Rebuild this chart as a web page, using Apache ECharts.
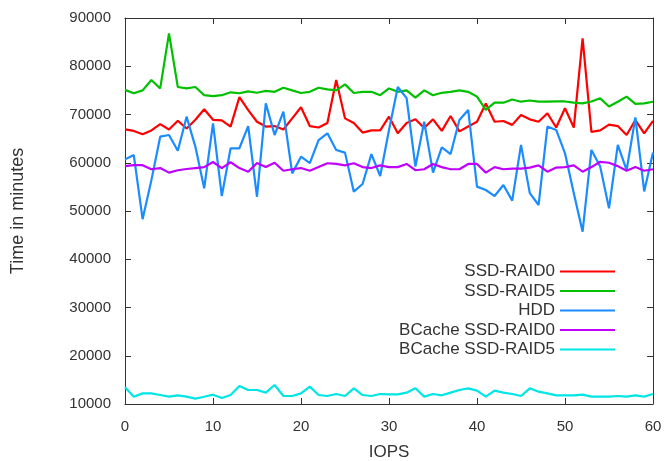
<!DOCTYPE html>
<html>
<head>
<meta charset="utf-8">
<script src="https://cdn.jsdelivr.net/npm/echarts@6/dist/echarts.min.js"></script>
<style>
html,body{margin:0;padding:0;background:#fff;}
#chart{width:664px;height:461px;}
</style>
</head>
<body>
<div id="chart"></div>
<script>
const xValues = Array.from({length: 61}, (_, i) => i);
const seriesNames = ['SSD-RAID0', 'SSD-RAID5', 'HDD', 'BCache SSD-RAID0', 'BCache SSD-RAID5'];

const ssdRaid0 = [66900, 66600, 65900, 66700, 68000, 66900, 68700, 67100, 68900, 71100,
  68900, 68800, 67500, 73600, 70900, 68500, 67500, 67600, 66900, 69200,
  71500, 67600, 67300, 68250, 77150, 69200, 68250, 66250, 66700, 66700,
  69550, 66100, 68250, 69000, 67200, 69000, 66600, 69700, 66500, 67500,
  68500, 72300, 68500, 68650, 67850, 69900, 69000, 68500, 70250, 67300,
  71300, 67300, 85800, 66400, 66700, 67900, 67600, 65750, 68850, 66100, 68700];

const ssdRaid5 = [75100, 74400, 75000, 77150, 75400, 86800, 75700, 75400, 75700, 74000,
  73800, 74000, 74600, 74400, 74800, 74500, 74900, 74700, 75550, 75000,
  74450, 74700, 75550, 75200, 75000, 76250, 74450, 74700, 74700, 74000,
  75400, 74700, 75000, 73500, 75000, 74000, 74500, 74700, 75000, 74700,
  73700, 70950, 72450, 72450, 73100, 72650, 72900, 72650, 72650, 72700,
  72700, 72450, 72300, 72700, 73350, 71650, 72650, 73700, 72200, 72300, 72650];

const hdd = [60700, 61600, 48300, 56400, 65400, 65750, 62500, 69550, 63300, 54700,
  68150, 53100, 63000, 63000, 67600, 52950, 72300, 65750, 70600, 57800,
  61250, 59900, 64700, 66100, 62650, 62100, 54000, 55600, 61800, 57250,
  66800, 75700, 73400, 59200, 68500, 57950, 63200, 61800, 68850, 70950,
  55050, 54350, 53100, 55400, 52150, 63700, 53700, 51250, 67500, 66800,
  61950, 53700, 45700, 62650, 59200, 50550, 63700, 58450, 69400, 54050, 62100];

const bcacheRaid0 = [59300, 59500, 59500, 58650, 58900, 57950, 58450, 58700, 58900, 59100,
  60150, 58900, 60100, 58900, 58150, 59950, 59100, 60000, 58350, 58650,
  58900, 58350, 59100, 59900, 59750, 59450, 59900, 59100, 58900, 59450,
  59100, 59100, 59750, 58450, 58650, 59750, 59100, 58650, 58650, 59750,
  59750, 57950, 59100, 58650, 58800, 58800, 59000, 59450, 58150, 59000,
  59100, 59450, 58150, 59100, 60200, 60000, 59300, 58350, 59100, 58350, 58650];

const bcacheRaid5 = [13450, 11520, 12200, 12200, 11860, 11520, 11800, 11520, 11100, 11500,
  11930, 11240, 11860, 13730, 12900, 12900, 12350, 13940, 11660, 11660,
  12200, 13600, 11860, 11660, 12070, 11660, 13250, 11860, 11660, 12070,
  12000, 12000, 12350, 13250, 11520, 12070, 11800, 12350, 12900, 13250,
  12760, 11520, 12760, 12350, 12070, 11660, 13250, 12550, 12200, 11800,
  11800, 11800, 11930, 11520, 11520, 11520, 11660, 11520, 11800, 11520, 12070];

const colors = ['#ff0000', '#00c000', '#1a8cff', '#c000ff', '#00e5e5'];
const allData = [ssdRaid0, ssdRaid5, hdd, bcacheRaid0, bcacheRaid5];

const FONT = 'Liberation Sans';
const TXT = '#333';

const chart = echarts.init(document.getElementById('chart'), null, {renderer: 'canvas'});

const series = allData.map((d, i) => ({
  name: seriesNames[i],
  type: 'line',
  xAxisIndex: 0,
  yAxisIndex: 0,
  data: d.map((v, j) => [xValues[j], v]),
  showSymbol: false,
  symbol: 'none',
  lineStyle: {color: colors[i], width: 2.2},
  itemStyle: {color: colors[i]},
  animation: false,
  z: 2 + i
}));

const option = {
  animation: false,
  backgroundColor: '#fff',
  grid: {left: 125, right: 11, top: 18, bottom: 57, containLabel: false, outerBoundsMode: 'none'},
  legend: {
    orient: 'vertical',
    right: 44,
    top: 258,
    align: 'right',
    icon: 'rect',
    itemWidth: 55,
    itemHeight: 2,
    itemGap: 2.5,
    textStyle: {fontFamily: FONT, fontSize: 17, color: TXT, padding: [0, 0, 0, 0]},
    data: seriesNames,
    selectedMode: false
  },
  xAxis: [{
    type: 'value', min: 0, max: 60, interval: 10, position: 'bottom',
    name: 'IOPS', nameLocation: 'middle', nameGap: 40,
    nameTextStyle: {fontFamily: FONT, fontSize: 17, color: TXT},
    axisLine: {show: true, onZero: false, lineStyle: {color: '#333', width: 1}},
    axisTick: {show: true, inside: true, length: 6, lineStyle: {color: '#333'}},
    axisLabel: {fontFamily: FONT, fontSize: 15, color: TXT, margin: 15},
    splitLine: {show: false}
  }, {
    type: 'value', min: 0, max: 60, interval: 10, position: 'top',
    axisLine: {show: true, onZero: false, lineStyle: {color: '#333', width: 1}},
    axisTick: {show: true, inside: true, length: 6, lineStyle: {color: '#333'}},
    axisLabel: {show: false},
    splitLine: {show: false}
  }],
  yAxis: [{
    type: 'value', min: 10000, max: 90000, interval: 10000, position: 'left',
    name: 'Time in minutes', nameLocation: 'middle', nameGap: 98, nameRotate: 90,
    nameTextStyle: {fontFamily: FONT, fontSize: 18, color: TXT},
    axisLine: {show: true, onZero: false, lineStyle: {color: '#333', width: 1}},
    axisTick: {show: true, inside: true, length: 6, lineStyle: {color: '#333'}},
    axisLabel: {fontFamily: FONT, fontSize: 15, color: TXT, margin: 14, formatter: v => String(v)},
    splitLine: {show: false}
  }, {
    type: 'value', min: 10000, max: 90000, interval: 10000, position: 'right',
    axisLine: {show: true, onZero: false, lineStyle: {color: '#333', width: 1}},
    axisTick: {show: true, inside: true, length: 6, lineStyle: {color: '#333'}},
    axisLabel: {show: false},
    splitLine: {show: false}
  }],
  series: series
};
chart.setOption(option);
</script>
</body>
</html>
